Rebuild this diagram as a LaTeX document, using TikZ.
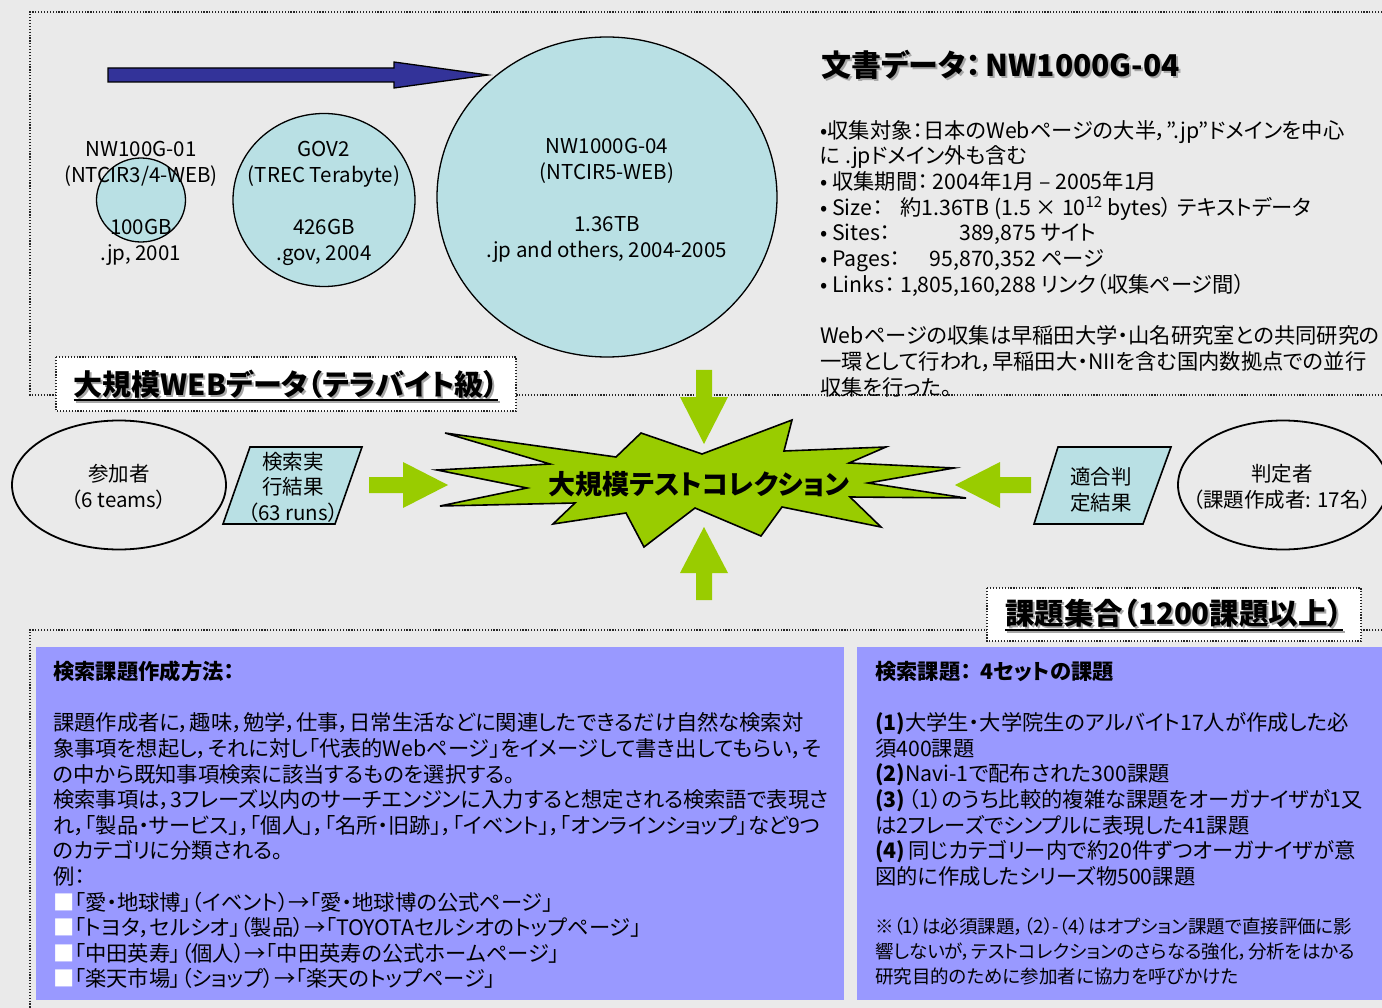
\documentclass[tikz,border=0pt]{standalone}
\usepackage{fontspec}
\setmainfont{Noto Sans CJK JP}[RawFeature=+palt]
\usetikzlibrary{shapes.geometric,calc}
\definecolor{bgc}{RGB}{234,234,234}
\definecolor{cyanfill}{RGB}{185,224,228}
\definecolor{bluebox}{RGB}{153,153,255}
\definecolor{greenc}{RGB}{153,204,0}
\definecolor{navyc}{RGB}{51,51,153}
\newcommand\fsz[2]{\fontsize{#1}{#2}\selectfont}
\begin{document}
\begin{tikzpicture}[x=1pt,y=-1pt,
  dotline/.style={line width=1.2pt, dash pattern=on 1.2pt off 1.7pt, draw=black!85},
  disk/.style={ellipse, draw=black, line width=1.3pt, fill=cyanfill, inner sep=0pt},
  ring/.style={ellipse, draw=black, line width=1.8pt, inner sep=0pt},
  lbl/.style={align=center, inner sep=0pt, font=\fsz{20.5}{26}},
  midlbl/.style={align=center, inner sep=0pt, font=\fsz{20.5}{25.5}},
  para/.style={fill=cyanfill, draw=black, line width=1.6pt},
  garrow/.style={fill=greenc},
  titlebox/.style={dotline, fill=white},
  shadowtxt/.style={text=black!35},
  boxtext/.style={anchor=north west, align=left, inner sep=0pt}]
\useasboundingbox (0,0) rectangle (1382,1008);
\fill[bgc] (0,0) rectangle (1382,1008);

% ---------- top frame ----------
\draw[dotline] (1382,12) -- (30,12) -- (30,395) -- (1382,395);
\draw[titlebox] (56,357) rectangle (516,411);
\node[inner sep=0pt, shadowtxt, font=\fsz{29}{32}\bfseries] (t1s) at (288,386) {大規模WEBデータ（テラバイト級）};
\draw[line width=2pt, black!35] ($(t1s.base west)+(0,5)$) -- ($(t1s.base east)+(0,5)$);
\node[inner sep=0pt, font=\fsz{29}{32}\bfseries] (t1) at (286,384) {大規模WEBデータ（テラバイト級）};
\draw[line width=2pt] ($(t1.base west)+(0,5)$) -- ($(t1.base east)+(0,5)$);

% blue arrow
\draw[fill=navyc, draw=black, line width=1.3pt] (108,68) -- (394,68) -- (394,62) -- (488,75) -- (394,88) -- (394,82) -- (108,82) -- cycle;

% circles
\node[disk, minimum width=89pt, minimum height=84pt] (c1) at (141,200) {};
\node[disk, minimum width=182pt, minimum height=173pt] (c2) at (324,200) {};
\node[disk, minimum width=340pt, minimum height=320pt] (c3) at (607,197) {};
\node[lbl] (c1t) at (141,203) {NW100G-01\\(NTCIR3/4-WEB)\\[26pt]100GB\\.jp, 2001};
\node[lbl] (c2t) at (324,203) {GOV2\\(TREC Terabyte)\\[26pt]426GB\\.gov, 2004};
\node[lbl] (c3t) at (607,200) {NW1000G-04\\(NTCIR5-WEB)\\[26pt]1.36TB\\.jp and others, 2004-2005};

% document data text
\node[anchor=west, inner sep=0pt, shadowtxt, font=\fsz{30}{34}\bfseries] (doctitles) at (823,67) {文書データ：\,NW1000G-04};
\node[anchor=west, inner sep=0pt, font=\fsz{30}{34}\bfseries] (doctitle) at (821,65) {文書データ：\,NW1000G-04};
\node[boxtext, font=\fsz{21.3}{25.7}] (doc) at (820,120) {%
•収集対象：日本のWebページの大半，”.jp”ドメインを中心\\
に .jpドメイン外も含む\\
• 収集期間： 2004年1月 – 2005年1月\\
\rlap{• Size：}\hspace{80pt}約1.36TB (1.5 × 10\textsuperscript{12} bytes）\hspace{6pt}テキストデータ\\
\rlap{• Sites：}\makebox[216pt][r]{389,875}\ サイト\\
\rlap{• Pages：}\makebox[216pt][r]{95,870,352}\ ページ\\
\rlap{• Links：}\makebox[216pt][r]{1,805,160,288}\ リンク（収集ページ間）\\[25.7pt]
Webページの収集は早稲田大学・山名研究室との共同研究の\\
一環として行われ，早稲田大・NIIを含む国内数拠点での並行\\
収集を行った。};

% ---------- middle ----------
\node[ring, minimum width=214pt, minimum height=129pt] (part) at (119,485) {};
\node[midlbl] (partt) at (119,487) {参加者\\（6 teams）};
\draw[para] (250,447) -- (362,447) -- (335,524) -- (223,524) -- cycle;
\node[midlbl] (runs) at (293,487) {検索実\\行結果\\（63 runs）};
\fill[garrow] (369,477) -- (403,477) -- (403,462) -- (448,485) -- (403,508) -- (403,493) -- (369,493) -- cycle;

\draw[fill=greenc, draw=black, line width=1.6pt] (445,433) -- (616,457) -- (641,433) -- (702,454) -- (792,420) -- (784,451) -- (886,447) -- (849,463) -- (954,468) -- (868,483) -- (966,498) -- (850,497) -- (881,527) -- (782,507) -- (761,536) -- (695,508) -- (644,547) -- (626,513) -- (553,524) -- (575,503) -- (440,506) -- (527,488) -- (437,470) -- (550,464) -- cycle;
\node[inner sep=0pt, font=\fsz{27}{30}\bfseries] (tc) at (699,484) {大規模テストコレクション};

\fill[garrow] (696,370) -- (712,370) -- (712,397) -- (728,397) -- (704,444) -- (680,397) -- (696,397) -- cycle;
\fill[garrow] (696,600) -- (712,600) -- (712,573) -- (728,573) -- (704,527) -- (680,573) -- (696,573) -- cycle;
\fill[garrow] (1031,477) -- (1000,477) -- (1000,462) -- (955,485) -- (1000,508) -- (1000,493) -- (1031,493) -- cycle;

\draw[para] (1058,447) -- (1171,447) -- (1143,524) -- (1034,524) -- cycle;
\node[midlbl] (rel) at (1101,490) {適合判\\定結果};
\node[ring, minimum width=210pt, minimum height=129pt] (judge) at (1283,485) {};
\node[midlbl] (judget) at (1282,487) {判定者\\（課題作成者: 17名）};

% ---------- bottom frame ----------
\draw[dotline] (1382,630) -- (30,630) -- (30,1008);
\draw[titlebox] (987,588) rectangle (1361,641);
\node[inner sep=0pt, shadowtxt, font=\fsz{29.5}{32}\bfseries] (t2s) at (1176,615) {課題集合（1200課題以上）};
\draw[line width=2pt, black!35] ($(t2s.base west)+(0,6)$) -- ($(t2s.base east)+(0,6)$);
\node[inner sep=0pt, font=\fsz{29.5}{32}\bfseries] (t2) at (1174,613) {課題集合（1200課題以上）};
\draw[line width=2pt] ($(t2.base west)+(0,6)$) -- ($(t2.base east)+(0,6)$);

\fill[bluebox] (36,647) rectangle (844,1000);
\fill[bluebox] (857,647) rectangle (1382,1000);

\node[boxtext, font=\fsz{21.3}{25.6}] (lefttext) at (53,661) {%
\textbf{検索課題作成方法：}\\[25.6pt]
課題作成者に，趣味，勉学，仕事，日常生活などに関連したできるだけ自然な検索対\\
象事項を想起し，それに対し「代表的Webページ」をイメージして書き出してもらい，そ\\
の中から既知事項検索に該当するものを選択する。\\
検索事項は，3フレーズ以内のサーチエンジンに入力すると想定される検索語で表現さ\\
れ，「製品・サービス」，「個人」，「名所・旧跡」，「イベント」，「オンラインショップ」など9つ\\
のカテゴリに分類される。\\
例：\\
\textcolor{white}{■}「愛・地球博」（イベント）→「愛・地球博の公式ページ」\\
\textcolor{white}{■}「トヨタ，セルシオ」（製品）→「TOYOTAセルシオのトップページ」\\
\textcolor{white}{■}「中田英寿」（個人）→「中田英寿の公式ホームページ」\\
\textcolor{white}{■}「楽天市場」（ショップ）→「楽天のトップページ」};

\node[boxtext, font=\fsz{21.3}{25.6}] (righttext) at (875,661) {%
\textbf{検索課題：\ \ 4セットの課題}\\[25.6pt]
\textbf{(1)}大学生・大学院生のアルバイト17人が作成した必\\
須400課題\\
\textbf{(2)}Navi-1で配布された300課題\\
\textbf{(3)}\,（1）のうち比較的複雑な課題をオーガナイザが1又\\
は2フレーズでシンプルに表現した41課題\\
\textbf{(4)}\,同じカテゴリー内で約20件ずつオーガナイザが意\\
図的に作成したシリーズ物500課題};
\node[boxtext, font=\fsz{18.5}{25}] (note) at (875,917) {%
※（1）は必須課題，（2）-（4）はオプション課題で直接評価に影\\
響しないが，テストコレクションのさらなる強化，分析をはかる\\
研究目的のために参加者に協力を呼びかけた};
\end{tikzpicture}
\end{document}
